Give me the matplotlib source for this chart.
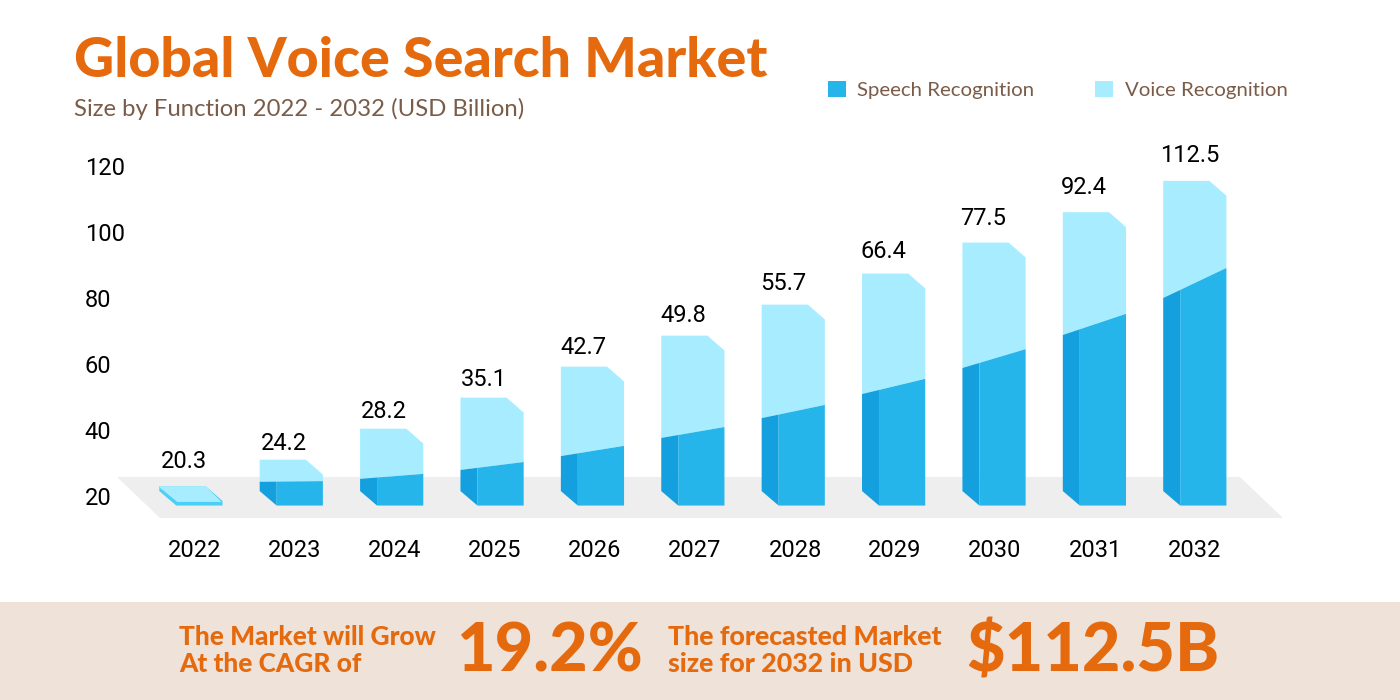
import matplotlib
matplotlib.use('Agg')
import matplotlib.pyplot as plt
from matplotlib.patches import Polygon, Rectangle, Patch

# data
years = [2022, 2023, 2024, 2025, 2026, 2027, 2028, 2029, 2030, 2031, 2032]
market_size = [20.3, 24.2, 28.2, 35.1, 42.7, 49.8, 55.7, 66.4, 77.5, 92.4, 112.5]
bar_top = [23.0, 31.0, 40.4, 49.8, 59.2, 68.6, 78.0, 87.4, 96.8, 106.0, 115.5]
speech_left = [22.4, 24.3, 25.2, 27.9, 32.1, 37.6, 43.6, 50.9, 58.8, 68.8, 80.0]
speech_right = [18.2, 24.5, 26.7, 30.3, 35.2, 40.9, 47.6, 55.5, 64.5, 75.2, 89.1]
label_height = [28.5, 33.9, 43.6, 53.3, 63.0, 72.7, 82.4, 92.1, 102.1, 111.5, 121.2]
y_ticks = [20, 40, 60, 80, 100, 120]

ORANGE = '#E56A0E'
BROWN = '#7A5C48'
SPEECH = '#25B5EA'
SPEECH_SIDE = '#14A0DF'
VOICE = '#A8EDFF'
STRIP = '#4CCFF5'
FLOOR = '#EEEEEE'
BAND = '#EFE2D9'

BASE = 17.1        # front bottom of the bars
SIDE_BASE = 21.5   # back bottom of the left side
RISE = 4.5         # height of the corner cut
DEPTH = 0.17       # width of the left side
WIDTH = 0.632

fig = plt.figure(figsize=(14, 7), dpi=100, facecolor='white')

# axes placed so that 2022 sits at x=195px, 20 at y=496px and 120 at y=166px
ax = fig.add_axes([100 / 1400, 1 - 520 / 700, 1200 / 1400, 390 / 700])
ax.set_xlim(2022 - 0.95, 2022 + 11.05)
ax.set_ylim(20 - 24 / 3.3, 20 + 366 / 3.3)
ax.patch.set_alpha(0)
for s in ax.spines.values():
    s.set_visible(False)

# grey floor
ax.add_patch(Polygon([(years[0] - 0.78, 25.76), (years[-1] + 0.45, 25.76),
                      (years[-1] + 0.88, 13.33), (years[0] - 0.35, 13.33)],
                     closed=True, fc=FLOOR, ec='none', zorder=1))

for i, year in enumerate(years):
    left = year - 0.357 + 0.0039 * (year - years[0])
    inner = left + DEPTH
    right = left + WIDTH
    top = bar_top[i]
    sl = speech_left[i]
    sr = speech_right[i]
    cut = right - DEPTH

    ax.text(year - 0.345, label_height[i], str(market_size[i]), ha='left', va='baseline',
            fontsize=17, family='Roboto', color='black')

    if i == 0:
        # the first bar is almost flat
        ax.add_patch(Polygon([(left, top), (cut, top), (right, top - RISE), (right, BASE),
                              (inner, BASE), (left, SIDE_BASE)],
                             closed=True, fc=STRIP, ec='none', zorder=3))
        ax.add_patch(Polygon([(left, top), (cut, top), (right - 0.01, sr), (inner + 0.01, sr), (left + 0.01, sl)],
                             closed=True, fc=VOICE, ec='none', zorder=4))
        continue

    si = sl + (sr - sl) * DEPTH / WIDTH
    ax.add_patch(Polygon([(left, top), (cut, top), (right, top - RISE), (right, sr), (left, sl)],
                         closed=True, fc=VOICE, ec='none', zorder=3))
    ax.add_patch(Polygon([(left, sl), (inner, si), (inner, BASE), (left, SIDE_BASE)],
                         closed=True, fc=SPEECH_SIDE, ec='none', zorder=3))
    ax.add_patch(Polygon([(inner, si), (right, sr), (right, BASE), (inner, BASE)],
                         closed=True, fc=SPEECH, ec='none', zorder=3))

ax.set_xticks(years)
ax.set_xticklabels([str(y) for y in years], family='Roboto', fontsize=17, color='black')
ax.set_yticks(y_ticks)
ax.set_yticklabels([str(v) for v in y_ticks], family='Roboto', fontsize=17, color='black', ha='left')
ax.tick_params(axis='x', length=0, pad=14)
ax.tick_params(axis='y', length=0, pad=11)

# title block
fig.text(74 / 1400, 1 - 77 / 700, 'Global Voice Search Market', color=ORANGE,
         family='Lato', fontweight=900, fontsize=40, va='baseline')
fig.text(74 / 1400, 1 - 116 / 700, 'Size by Function 2022 - 2032 (USD Billion)', color=BROWN,
         family='Lato', fontsize=17.2, va='baseline')

# legend
handles = [Patch(fc=SPEECH, ec='none'), Patch(fc=VOICE, ec='none')]
fig.legend(handles, ['Speech Recognition', 'Voice Recognition'], ncols=2, frameon=False,
           loc='center left', bbox_to_anchor=(828 / 1400, 1 - 90 / 700), borderpad=0, borderaxespad=0,
           handlelength=0.875, handleheight=0.875, handletextpad=0.55, columnspacing=3.0,
           prop={'family': 'Lato', 'size': 14.7}, labelcolor=BROWN)

# bottom band
fig.add_artist(Rectangle((0, 0), 1, 98 / 700, transform=fig.transFigure, fc=BAND, ec='none', zorder=0))
bold = dict(color=ORANGE, family='Lato', fontweight=900, va='baseline', zorder=5)
fig.text(179 / 1400, 1 - 645 / 700, 'The Market will Grow', fontsize=18.9, **bold)
fig.text(179 / 1400, 1 - 672 / 700, 'At the CAGR of', fontsize=18.9, **bold)
fig.text(668 / 1400, 1 - 645 / 700, 'The forecasted Market', fontsize=19.3, **bold)
fig.text(668 / 1400, 1 - 672 / 700, 'size for 2032 in USD', fontsize=19.3, **bold)
fig.text(456 / 1400, 1 - 671 / 700, '19.2%', fontsize=48, **bold)
fig.text(966 / 1400, 1 - 671 / 700, '$112.5B', fontsize=48, **bold)

fig.savefig('out.png', dpi=100)
